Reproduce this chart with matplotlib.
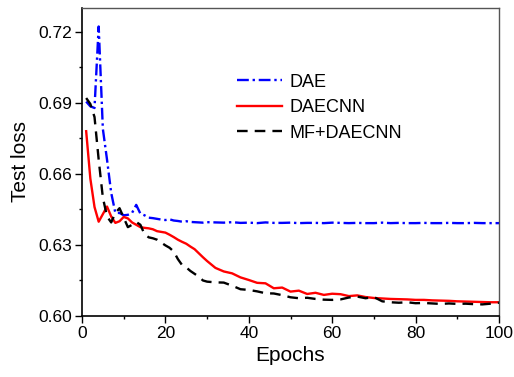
import matplotlib
matplotlib.use("Agg")
import matplotlib.pyplot as plt
from matplotlib.ticker import MultipleLocator

plt.rcParams['font.family'] = ['Liberation Sans', 'DejaVu Sans']

epochs = list(range(1, 31)) + list(range(32, 101, 2))

dae = [0.6905, 0.6885, 0.6878, 0.7222, 0.679, 0.666, 0.652, 0.6435, 0.6435, 0.6425,
       0.6427, 0.6435, 0.6469, 0.6432, 0.6425, 0.6415, 0.6413, 0.6410, 0.6407, 0.6405,
       0.6408, 0.6403, 0.6401, 0.6398, 0.6400, 0.6397, 0.6396, 0.6395, 0.6394, 0.6396,
       0.6395, 0.6394, 0.6396, 0.6393, 0.6394, 0.6392, 0.6395, 0.6393, 0.6393, 0.6394,
       0.6392, 0.6393, 0.6393, 0.6392, 0.6394, 0.6393, 0.6392, 0.6393, 0.6392, 0.6392,
       0.6394, 0.6392, 0.6393, 0.6392, 0.6392, 0.6393, 0.6392, 0.6392, 0.6393, 0.6392,
       0.6392, 0.6393, 0.6392, 0.6392, 0.6392]

daecnn = [0.678, 0.658, 0.646, 0.6398, 0.643, 0.6462, 0.642, 0.6393, 0.6400, 0.6418,
          0.6412, 0.6395, 0.6385, 0.6375, 0.6372, 0.6370, 0.6366, 0.6358, 0.6355, 0.6352,
          0.6343, 0.6333, 0.6322, 0.6313, 0.6305, 0.6293, 0.6282, 0.6265, 0.6248, 0.6232,
          0.6203, 0.6188, 0.6180, 0.6163, 0.6152, 0.6140, 0.6138, 0.6117, 0.6120, 0.6103,
          0.6107, 0.6093, 0.6098, 0.6089, 0.6094, 0.6092, 0.6084, 0.6087, 0.6080, 0.6076,
          0.6074, 0.6072, 0.6071, 0.6070, 0.6068, 0.6068, 0.6066, 0.6065, 0.6064, 0.6062,
          0.6061, 0.6060, 0.6059, 0.6058, 0.6058]

mf_daecnn = [0.692, 0.6895, 0.684, 0.666, 0.650, 0.642, 0.6395, 0.6435, 0.6455, 0.6415,
             0.6375, 0.6385, 0.6397, 0.6385, 0.6345, 0.6332, 0.6328, 0.6322, 0.6310, 0.6298,
             0.6288, 0.6272, 0.6240, 0.6215, 0.6205, 0.6190, 0.6178, 0.6166, 0.6150, 0.6145,
             0.6142, 0.6141, 0.6128, 0.6113, 0.6110, 0.6104, 0.6096, 0.6095, 0.6088, 0.6079,
             0.6075, 0.6077, 0.6072, 0.6069, 0.6068, 0.6070, 0.6078, 0.6082, 0.6075, 0.6080,
             0.6062, 0.6058, 0.6056, 0.6058, 0.6054, 0.6055, 0.6053, 0.6051, 0.6053, 0.6051,
             0.6052, 0.6050, 0.6049, 0.6052, 0.6056]

fig = plt.figure(figsize=(5.14, 3.77), dpi=100)
ax = fig.add_axes([82 / 514, 1 - 316 / 377, 417 / 514, 308 / 377])

ax.plot(epochs, dae, color='#0000ff', lw=1.7, dashes=(5, 1.6, 1, 1.6), label='DAE')
ax.plot(epochs, daecnn, color='#ff0000', lw=1.7, label='DAECNN')
ax.plot(epochs, mf_daecnn, color='black', lw=1.7, dashes=(4.5, 3), label='MF+DAECNN')

ax.set_xlim(0, 100)
ax.set_ylim(0.60, 0.73)
ax.xaxis.set_major_locator(MultipleLocator(20))
ax.xaxis.set_minor_locator(MultipleLocator(10))
ax.yaxis.set_major_locator(MultipleLocator(0.03))
ax.yaxis.set_minor_locator(MultipleLocator(0.015))
ax.yaxis.set_major_formatter(plt.FormatStrFormatter('%.2f'))

ax.tick_params(which='major', direction='out', length=5, width=1, labelsize=12.5, pad=2)
ax.tick_params(which='minor', direction='out', length=2.5, width=1)
for side in ['left', 'bottom']:
    ax.spines[side].set_linewidth(1.2)
for side in ['top', 'right']:
    ax.spines[side].set_color('#555555')
    ax.spines[side].set_linewidth(1)

ax.set_xlabel('Epochs', fontsize=15, labelpad=4)
ax.set_ylabel('Test loss', fontsize=15, labelpad=6)

ax.legend(loc='upper left', bbox_to_anchor=(0.372, 0.787), frameon=False, fontsize=13,
          handlelength=2.5, handletextpad=0.4, labelspacing=0.47, borderpad=0, borderaxespad=0)

fig.savefig('out.png', dpi=100)
